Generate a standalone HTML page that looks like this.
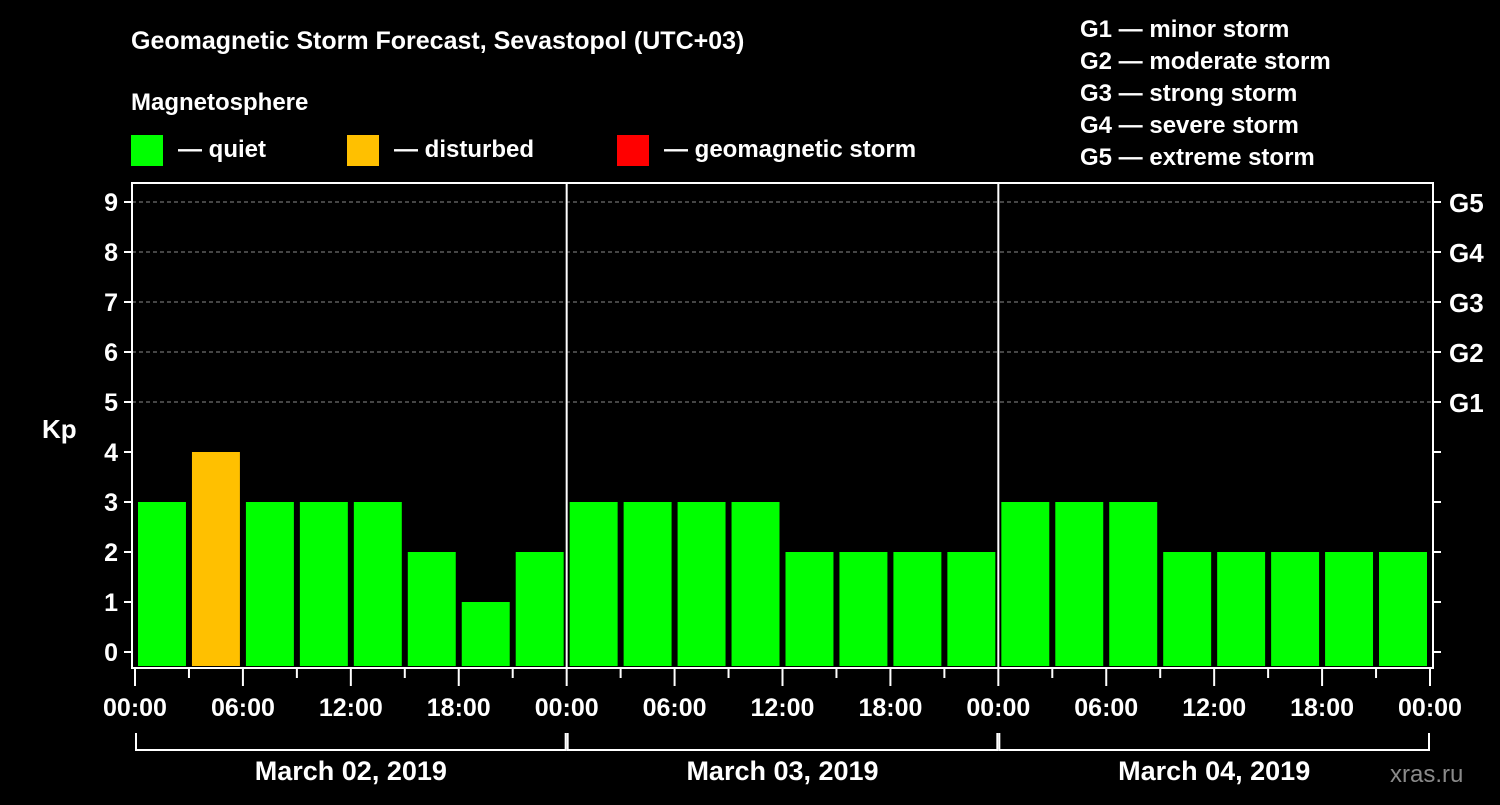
<!DOCTYPE html>
<html><head><meta charset="utf-8"><style>
body{margin:0;background:#000;width:1500px;height:800px;overflow:hidden}
svg text{font-family:"Liberation Sans",sans-serif;font-weight:bold;fill:#fff}
</style></head><body>
<svg id="c" width="1500" height="800" viewBox="0 0 1500 800">
<rect width="1500" height="800" fill="#000"/>
<text x="131" y="49" font-size="25">Geomagnetic Storm Forecast, Sevastopol (UTC+03)</text>
<text x="131" y="110" font-size="24">Magnetosphere</text>
<g><rect x="131" y="135" width="32" height="31" fill="#00ff00"/><text x="178" y="157" font-size="24">— quiet</text></g>
<g><rect x="347" y="135" width="32" height="31" fill="#ffc000"/><text x="394" y="157" font-size="24">— disturbed</text></g>
<g><rect x="617" y="135" width="32" height="31" fill="#ff0000"/><text x="664" y="157" font-size="24">— geomagnetic storm</text></g>
<g font-size="24">
<text x="1080" y="37">G1 — minor storm</text>
<text x="1080" y="69">G2 — moderate storm</text>
<text x="1080" y="101">G3 — strong storm</text>
<text x="1080" y="133">G4 — severe storm</text>
<text x="1080" y="165">G5 — extreme storm</text>
</g>
<text x="42" y="438" font-size="26">Kp</text>
<text x="1390" y="782" font-size="24" fill="#888" style="fill:#8a8a8a;font-weight:normal">xras.ru</text>
<g id="grid"></g><g id="bars"></g><g id="axes"></g>
</svg>
<script>
const kpValues=[3,4,3,3,3,2,1,2, 3,3,3,3,2,2,2,2, 3,3,3,2,2,2,2,2];
const dayLabels=["March 02, 2019","March 03, 2019","March 04, 2019"];
const hourLabels=["00:00","06:00","12:00","18:00"];
const yTicks=[0,1,2,3,4,5,6,7,8,9];
const gLabels=["G1","G2","G3","G4","G5"];
const NS="http://www.w3.org/2000/svg";
const X0=135,X1=1430,L=132,R=1433,T=183,B=668;
const slotW=(X1-X0)/kpValues.length;
const y=v=>652-v*50;
const x=i=>X0+i*slotW;
function mk(tag,a,parent){const e=document.createElementNS(NS,tag);for(const k in a)e.setAttribute(k,a[k]);document.getElementById(parent).appendChild(e);return e;}
const color=v=>v>=5?"#ff0000":v>=4?"#ffc000":"#00ff00";
// grid
[5,6,7,8,9].forEach(v=>{
 const g=mk("line",{x1:L,x2:R,y1:y(v),y2:y(v),stroke:"#8a8a8a","stroke-dasharray":"4,3","stroke-width":1},"grid");
 
 
});
// bars
kpValues.forEach((v,i)=>{
 const r=mk("rect",{x:x(i)+3,y:y(v),width:slotW-6,height:B-2-y(v),fill:color(v)},"bars");
 
 
});
// axes frame
const fr=mk("rect",{x:L,y:T,width:R-L,height:B-T,fill:"none",stroke:"#fff","stroke-width":2},"axes");


// y ticks
yTicks.forEach(v=>{
 mk("line",{x1:L-8,x2:L,y1:y(v),y2:y(v),stroke:"#fff","stroke-width":2},"axes");
 mk("line",{x1:R,x2:R+8,y1:y(v),y2:y(v),stroke:"#fff","stroke-width":2},"axes");
 const t=mk("text",{x:L-14,y:y(v)+9,"text-anchor":"end","font-size":25},"axes");
 t.textContent=v;
 
 
});
gLabels.forEach((g,i)=>{
 const t=mk("text",{x:R+16,y:y(5+i)+10,"font-size":26},"axes");
 t.textContent=g;
 
 
});
// day separators, time ticks
const nDays=dayLabels.length, dayW=(X1-X0)/nDays;
for(let d=0;d<nDays;d++){
 const dx=X0+d*dayW;
 if(d>0){const s=mk("line",{x1:dx,x2:dx,y1:T,y2:B,stroke:"#fff","stroke-width":2},"axes");
  
  }
 mk("path",{d:`M${dx+1} 733V750H${dx+dayW-1}V733`,fill:"none",stroke:"#fff","stroke-width":2},"axes");
 const t=mk("text",{x:dx+dayW/2,y:780,"text-anchor":"middle","font-size":27},"axes");
 t.textContent=dayLabels[d];
 
 
}
for(let i=0;i<=kpValues.length;i++){
 const major=i%2===0;
 mk("line",{x1:x(i),x2:x(i),y1:B,y2:major?686:678,stroke:"#fff","stroke-width":2},"axes");
 if(major){
  const t=mk("text",{x:x(i),y:716,"text-anchor":"middle","font-size":25},"axes");
  t.textContent=hourLabels[(i/2)%4];
  
  
 }
}
</script>
</body></html>
